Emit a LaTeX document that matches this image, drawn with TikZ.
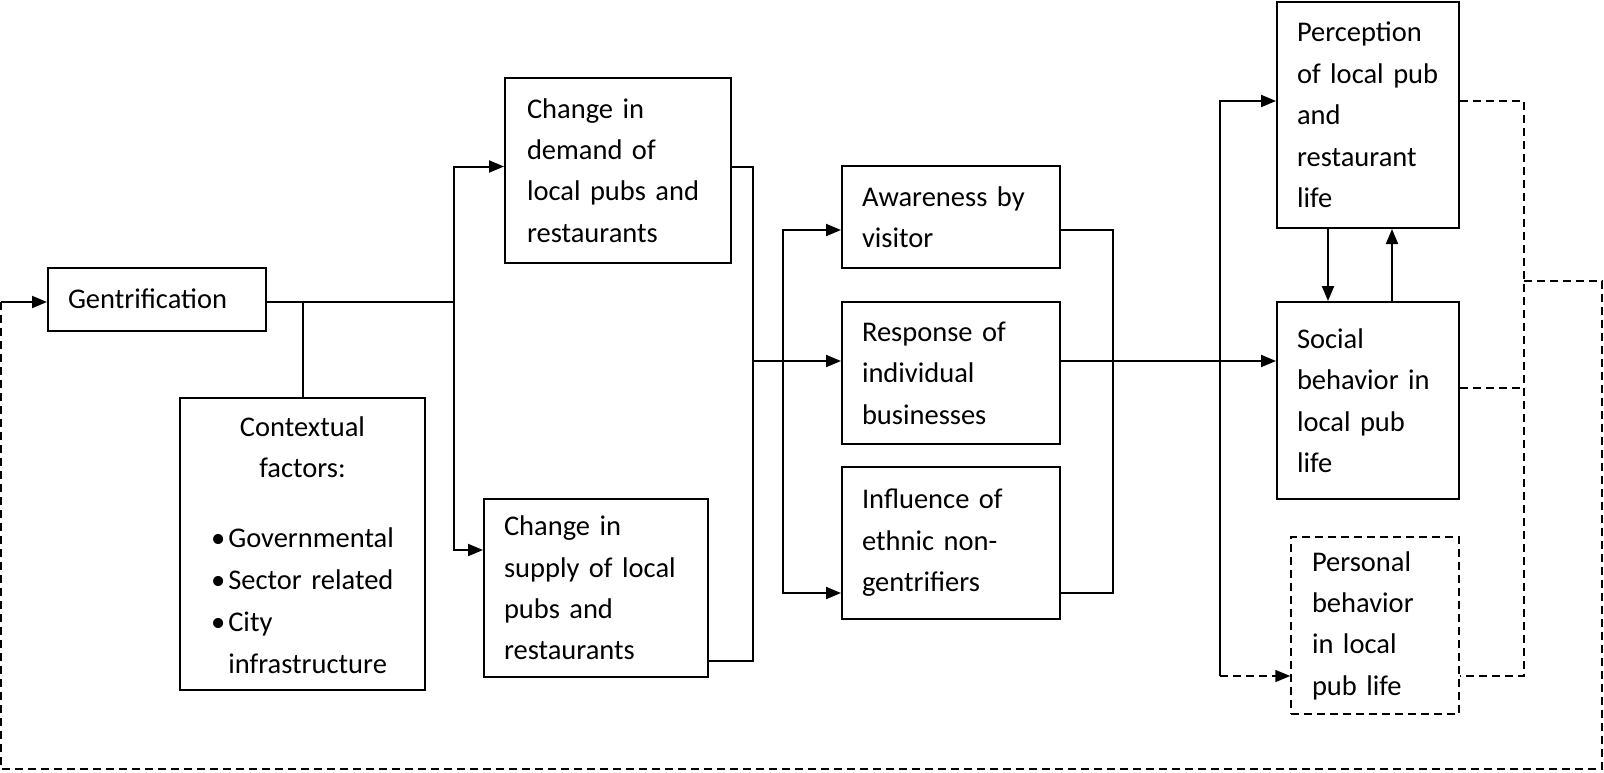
\documentclass[tikz,border=0pt]{standalone}
\usepackage{fontspec}
\setmainfont{Carlito}
\usetikzlibrary{arrows.meta}
\tikzset{
  blk/.style n args={3}{draw, line width=2pt, align=left, inner ysep=0pt, text width=#1, minimum height=#2, inner xsep=#3, font=\fontsize{28.5}{41.4}\selectfont},
  conn/.style={line width=2pt},
  arr/.style={conn, -{Triangle[length=15pt,width=12pt]}},
  dline/.style={line width=1.5pt, dash pattern=on 8pt off 5pt}
}

\begin{document}
\begin{tikzpicture}[x=1pt,y=-1pt]
\useasboundingbox (0,0) rectangle (1604,772);
% boxes
\node[blk={178pt}{63pt}{20pt}] (gent) at (157,299) {Gentrification};
\node[blk={225pt}{292pt}{10pt}, align=center] (ctx) at (302.5,544) {\rule{0pt}{35pt}Contextual\\factors:\\[28pt]\renewcommand{\arraystretch}{1.02}\begin{tabular}[t]{@{}l@{}}\textbullet\hspace{3pt}Governmental\\ \textbullet\hspace{3pt}Sector related\\ \textbullet\hspace{3pt}City\\ \phantom{\textbullet\hspace{3pt}}infrastructure\end{tabular}};
\node[blk={182pt}{185pt}{22pt}] (demand) at (618,170.5) {Change in\\demand of\\local pubs and\\restaurants};
\node[blk={184pt}{178pt}{20pt}] (supply) at (596,588) {Change in\\supply of local\\pubs and\\restaurants};
\node[blk={178pt}{102pt}{20pt}] (aware) at (951,217) {Awareness by\\visitor};
\node[blk={178pt}{142pt}{20pt}] (resp) at (951,373) {Response of\\individual\\businesses};
\node[blk={178pt}{152pt}{20pt}] (infl) at (951,543) {Influence of\\ethnic non-\\gentrifiers};
\node[blk={142pt}{226pt}{20pt}] (perc) at (1368,115) {Perception\\of local pub\\and\\restaurant\\life};
\node[blk={142pt}{197pt}{20pt}] (social) at (1368,400.5) {Social\\behavior in\\local pub\\life};
\node[blk={126pt}{177pt}{21pt}, line width=1.5pt, dash pattern=on 8pt off 5pt] (pers) at (1375,625.5) {Personal\\behavior\\in local\\pub life};
% junctions
\coordinate (j1) at (454,302);
\coordinate (j2) at (753,361);
\coordinate (j3) at (783,361);
\coordinate (j4) at (1113,361);
\coordinate (j5) at (1220,361);
\coordinate (j6) at (1220,676);
\coordinate (f1) at (1524,676);
\coordinate (f2) at (1524,281);
\coordinate (f3) at (1602,769);
\coordinate (f4) at (1,769);
\coordinate (f5) at (1,302);
% solid connectors
\draw[conn] (gent.east |- j1) -- (j1);
\draw[conn] (ctx.north) -- (ctx.north |- j1);
\draw[arr] (j1) |- ([yshift=4pt]demand.west);
\draw[arr] (j1) |- ([yshift=38pt]supply.west);
\draw[conn] ([yshift=4pt]demand.east) -| (j2) |- ([yshift=-73pt]supply.east);
\draw[conn] (j2) -- (j3);
\draw[arr] (j3) -- (resp.west |- j3);
\draw[arr] (j3) |- ([yshift=-13pt]aware.west);
\draw[arr] (j3) |- ([yshift=-50pt]infl.west);
\draw[conn] ([yshift=-13pt]aware.east) -| (j4) |- ([yshift=-50pt]infl.east);
\draw[arr] (resp.east |- j4) -- (social.west |- j4);
\draw[arr] (j5) |- ([yshift=14pt]perc.west);
\draw[conn] (j5) -- (j6);
\draw[dline, -{Triangle[length=15pt,width=12pt]}] (j6) -- (pers.west |- j6);
\draw[arr] ([xshift=-40pt]perc.south) -- ([xshift=-40pt]social.north);
\draw[arr] ([xshift=24pt]social.north) -- ([xshift=24pt]perc.south);
% dashed feedback
\draw[dline] ([yshift=14pt]perc.east) -| (f1) -- (pers.east |- f1);
\draw[dline] ([yshift=12.5pt]social.east) -- ++(65,0);
\draw[dline] (f2) -| (f3) -- (f4) -- (f5);
\draw[arr] (f5) -- (gent.west |- f5);
\end{tikzpicture}
\end{document}
